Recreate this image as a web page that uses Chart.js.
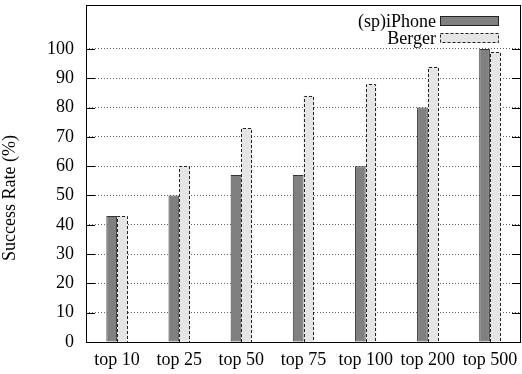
<!DOCTYPE html>
<html>
<head>
<meta charset="utf-8">
<script src="https://cdn.jsdelivr.net/npm/chart.js@4"></script>
<style>
  html, body { margin: 0; padding: 0; background: #fff; }
  #wrap { width: 522px; height: 374px; }
</style>
</head>
<body>
<div id="wrap"><canvas id="myChart"></canvas></div>
<script>
// valores
var categories = ['top 10', 'top 25', 'top 50', 'top 75', 'top 100', 'top 200', 'top 500'];
var iphoneValues = [43, 50, 57, 57, 60, 80, 100];
var bergerValues = [43, 60, 73, 84, 88, 94, 99];
var yTicks = [0, 10, 20, 30, 40, 50, 60, 70, 80, 90, 100];

var serif = '"Liberation Serif", "Times New Roman", serif';

// moldura, marcas, legenda e título do eixo (estilo gnuplot)
var gnuplotStyle = {
  id: 'gnuplotStyle',
  afterDatasetsDraw: function(chart) {
    var ctx = chart.ctx;
    var meta = chart.getDatasetMeta(1);
    ctx.save();
    ctx.strokeStyle = '#222';
    ctx.lineWidth = 1;
    ctx.setLineDash([3, 2]);
    meta.data.forEach(function(bar) {
      var p = bar.getProps(['x', 'y', 'base', 'width'], true);
      var l = Math.round(p.x - p.width / 2) + 0.5;
      var r = Math.round(p.x + p.width / 2) - 0.5;
      var t = Math.round(p.y) + 0.5;
      var b = Math.round(p.base);
      ctx.beginPath();
      ctx.moveTo(l, b);
      ctx.lineTo(l, t);
      ctx.lineTo(r, t);
      ctx.lineTo(r, b);
      ctx.stroke();
    });
    ctx.restore();
  },
  afterDraw: function(chart) {
    var ctx = chart.ctx;
    var a = chart.chartArea;
    var y = chart.scales.y;
    ctx.save();
    ctx.strokeStyle = '#000';
    ctx.lineWidth = 1;
    ctx.setLineDash([]);
    ctx.strokeRect(Math.round(a.left) + 0.5, Math.round(a.top) + 0.5,
      Math.round(a.right - a.left) - 1, Math.round(a.bottom - a.top));

    // marcas para dentro, esquerda e direita
    yTicks.forEach(function(v) {
      var py = Math.round(y.getPixelForValue(v)) + 0.5;
      ctx.beginPath();
      ctx.moveTo(a.left, py);
      ctx.lineTo(a.left + 9, py);
      ctx.moveTo(a.right - 9, py);
      ctx.lineTo(a.right, py);
      ctx.stroke();
    });

    // legenda
    ctx.font = '18px ' + serif;
    ctx.fillStyle = '#000';
    ctx.textAlign = 'right';
    ctx.textBaseline = 'middle';
    var ds = chart.data.datasets;
    var rows = [21, 38];
    ds.forEach(function(d, i) {
      var cy = rows[i];
      ctx.fillText(d.label, 436, cy + 1);
      ctx.fillStyle = d.backgroundColor;
      ctx.fillRect(440, cy - 5, 59, 10);
      ctx.strokeStyle = '#222';
      ctx.setLineDash(i === 0 ? [] : [3, 2]);
      ctx.strokeRect(440.5, cy - 4.5, 58, 9);
      ctx.setLineDash([]);
      ctx.fillStyle = '#000';
    });

    // título do eixo y
    ctx.save();
    ctx.translate(10, 198);
    ctx.rotate(-Math.PI / 2);
    ctx.textAlign = 'center';
    ctx.textBaseline = 'middle';
    ctx.fillText('Success Rate (%)', 0, 0);
    ctx.restore();
    ctx.restore();
  }
};

var ctx = document.getElementById('myChart').getContext('2d');

new Chart(ctx, {
  type: 'bar',
  data: {
    labels: categories,
    datasets: [
      {
        label: '(sp)iPhone',
        data: iphoneValues,
        backgroundColor: '#808080',
        borderColor: '#333',
        borderWidth: 1,
        borderSkipped: false
      },
      {
        label: 'Berger',
        data: bergerValues,
        backgroundColor: '#e5e5e5',
        borderWidth: 0
      }
    ]
  },
  options: {
    responsive: true,
    maintainAspectRatio: false,
    animation: false,
    datasets: {
      bar: { categoryPercentage: 0.345, barPercentage: 1 }
    },
    layout: { padding: { top: 5, right: 1, left: 0, bottom: 0 } },
    plugins: {
      legend: { display: false },
      tooltip: { enabled: false }
    },
    scales: {
      x: {
        grid: { display: false, drawTicks: false },
        border: { display: false },
        ticks: {
          color: '#000',
          font: { family: serif, size: 18 },
          padding: 7,
          maxRotation: 0,
          autoSkip: false
        },
        afterFit: function(scale) {
          scale.height = 32;
          scale.paddingLeft = 0;
          scale.paddingRight = 0;
        }
      },
      y: {
        min: 0,
        max: 115,
        grid: { color: '#666', lineWidth: 1, drawTicks: false },
        border: { display: false, dash: [1, 2] },
        ticks: {
          color: '#000',
          font: { family: serif, size: 18 },
          padding: 12
        },
        afterBuildTicks: function(scale) {
          scale.ticks = yTicks.map(function(v) { return { value: v }; });
        },
        afterFit: function(scale) {
          scale.width = 86;
          scale.paddingTop = 0;
          scale.paddingBottom = 0;
        }
      }
    }
  },
  plugins: [gnuplotStyle]
});
</script>
</body>
</html>
